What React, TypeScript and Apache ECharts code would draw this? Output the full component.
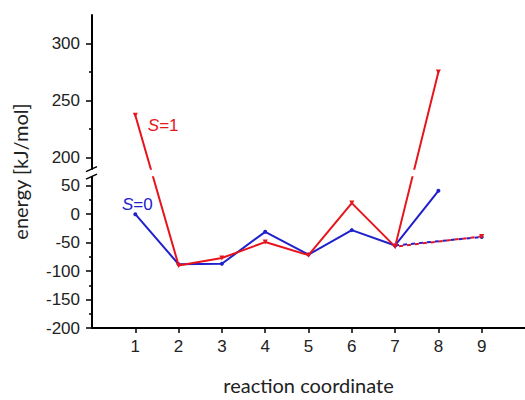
import React, { useEffect, useRef } from "react";
import * as echarts from "echarts";

// ---- data ----
const reactionCoords = [1, 2, 3, 4, 5, 6, 7, 8];
const energyS0 = [0, -88, -87, -31, -71, -28, -55, 41];
const energyS1 = [237, -90, -77, -49, -72, 19.5, -57, 275];
const branchCoords = [7, 9];
const branchS0 = [-55, -40];
const branchS1 = [-57, -39];
const xTicks = [1, 2, 3, 4, 5, 6, 7, 8, 9];
const yMajorTicks = [-200, -150, -100, -50, 0, 50, 200, 250, 300];
const yMinorTicks = [-175, -125, -75, -25, 25, 225, 275];

// ---- broken y axis: lower segment up to 65, upper segment from 190 at double scale ----
const LOWER_TOP = 65;
const UPPER_BOTTOM = 190;
const AXIS_MIN = -200;
const AXIS_TOP_REAL = 325;
const toDisplay = (v: number) => (v <= LOWER_TOP ? v : 2 * v - 300);
const fromDisplay = (d: number) => (d <= LOWER_TOP ? d : (d + 300) / 2);

const RED = "#e8141c";
const BLUE = "#2020cc";
const TEXT = "#222";
const FONT = "Liberation Sans, Arial, sans-serif";
const TITLE_FONT = "Lato, Open Sans, sans-serif";

const pts = (xs: number[], ys: number[]) => xs.map((x, i) => [x, toDisplay(ys[i])]);

export default function App() {
  const ref = useRef<HTMLDivElement>(null);
  useEffect(() => {
    if (!ref.current) return;
    const chart = echarts.init(ref.current, null, { renderer: "svg" });
    const s0 = pts(reactionCoords, energyS0);
    const s1 = pts(reactionCoords, energyS1);
    const richS = (color: string) => ({
      i: { fontStyle: "italic", color, fontSize: 17, fontFamily: FONT },
      n: { color, fontSize: 17, fontFamily: FONT },
    });
    const option: any = {
      animation: false,
      backgroundColor: "#fff",
      grid: { left: 92, right: 0, top: 15, bottom: 66 },
      xAxis: {
        type: "value",
        min: 0,
        max: 10,
        name: "reaction coordinate",
        nameLocation: "middle",
        nameGap: 47,
        nameTextStyle: { fontFamily: TITLE_FONT, fontSize: 20, color: TEXT },
        axisLine: { show: true, onZero: false, lineStyle: { color: "#000", width: 2 } },
        axisTick: { show: true, length: 5, lineStyle: { color: "#000", width: 1.5 }, customValues: xTicks },
        axisLabel: { margin: 10, fontFamily: FONT, fontSize: 17, color: TEXT, customValues: xTicks },
        splitLine: { show: false },
      },
      yAxis: [
        {
          type: "value",
          min: toDisplay(AXIS_MIN),
          max: toDisplay(AXIS_TOP_REAL),
          name: "energy [kJ/mol]",
          nameLocation: "middle",
          nameGap: 62,
          nameTextStyle: { fontFamily: TITLE_FONT, fontSize: 20, color: TEXT },
          axisLine: { show: true, onZero: false, lineStyle: { color: "#000", width: 2 } },
          axisTick: { show: true, length: 6, lineStyle: { color: "#000", width: 1.5 }, customValues: yMajorTicks.map(toDisplay) },
          axisLabel: {
            margin: 12,
            fontFamily: FONT,
            fontSize: 17,
            color: TEXT,
            customValues: yMajorTicks.map(toDisplay),
            formatter: (v: number) => String(Math.round(fromDisplay(v))),
          },
          splitLine: { show: false },
        },
        {
          type: "value",
          min: toDisplay(AXIS_MIN),
          max: toDisplay(AXIS_TOP_REAL),
          position: "left",
          axisLine: { show: false, onZero: false },
          axisTick: { show: true, length: 3, lineStyle: { color: "#000", width: 1.5 }, customValues: yMinorTicks.map(toDisplay) },
          axisLabel: { show: false },
          splitLine: { show: false },
        },
      ],
      series: [
        {
          type: "line",
          data: pts(branchCoords, branchS0),
          lineStyle: { color: BLUE, width: 2, type: [4, 4] },
          itemStyle: { color: BLUE },
          symbol: "circle",
          symbolSize: 4,
          z: 2,
        },
        {
          type: "line",
          data: pts(branchCoords, branchS1),
          lineStyle: { color: RED, width: 2, type: [4, 4], dashOffset: 4 },
          itemStyle: { color: RED },
          symbol: "triangle",
          symbolRotate: 180,
          symbolSize: 5,
          z: 3,
        },
        {
          type: "line",
          data: s0.map((p, i) =>
            i === 0
              ? {
                  value: p,
                  label: {
                    show: true,
                    position: "top",
                    distance: 4,
                    offset: [2, 5],
                    formatter: "{i|S}{n|=0}",
                    rich: richS(BLUE),
                  },
                }
              : p
          ),
          lineStyle: { color: BLUE, width: 2 },
          itemStyle: { color: BLUE },
          symbol: "circle",
          symbolSize: 4,
          z: 4,
        },
        {
          type: "line",
          data: s1.map((p, i) =>
            i === 0
              ? {
                  value: p,
                  label: {
                    show: true,
                    position: "right",
                    distance: 6,
                    offset: [4, 10],
                    formatter: "{i|S}{n|=1}",
                    rich: richS(RED),
                  },
                }
              : p
          ),
          lineStyle: { color: RED, width: 2 },
          itemStyle: { color: RED },
          symbol: "triangle",
          symbolRotate: 180,
          symbolSize: 5,
          z: 5,
        },
      ],
    };
    chart.setOption(option);
    const yLow = chart.convertToPixel({ yAxisIndex: 0 }, toDisplay(LOWER_TOP)) as number;
    const yHigh = chart.convertToPixel({ yAxisIndex: 0 }, toDisplay(UPPER_BOTTOM)) as number;
    const x0 = chart.convertToPixel({ xAxisIndex: 0 }, 0) as number;
    const x1 = chart.convertToPixel({ xAxisIndex: 0 }, 10) as number;
    chart.setOption({
      graphic: [
        {
          type: "rect",
          z: 100,
          shape: { x: x0 - 3, y: yHigh + 1, width: x1 - x0 + 3, height: yLow - yHigh - 2 },
          style: { fill: "#fff" },
        },
        {
          type: "line",
          z: 101,
          shape: { x1: x0 - 6, y1: yHigh + 3, x2: x0 + 5, y2: yHigh - 2 },
          style: { stroke: "#000", lineWidth: 1.5 },
        },
        {
          type: "line",
          z: 101,
          shape: { x1: x0 - 6, y1: yLow + 2, x2: x0 + 5, y2: yLow - 3 },
          style: { stroke: "#000", lineWidth: 1.5 },
        },
      ],
    });
    return () => chart.dispose();
  }, []);
  return (
    <div
      ref={ref}
      style={{ position: "fixed", left: 0, top: 0, width: 525, height: 400, background: "#fff" }}
    />
  );
}
